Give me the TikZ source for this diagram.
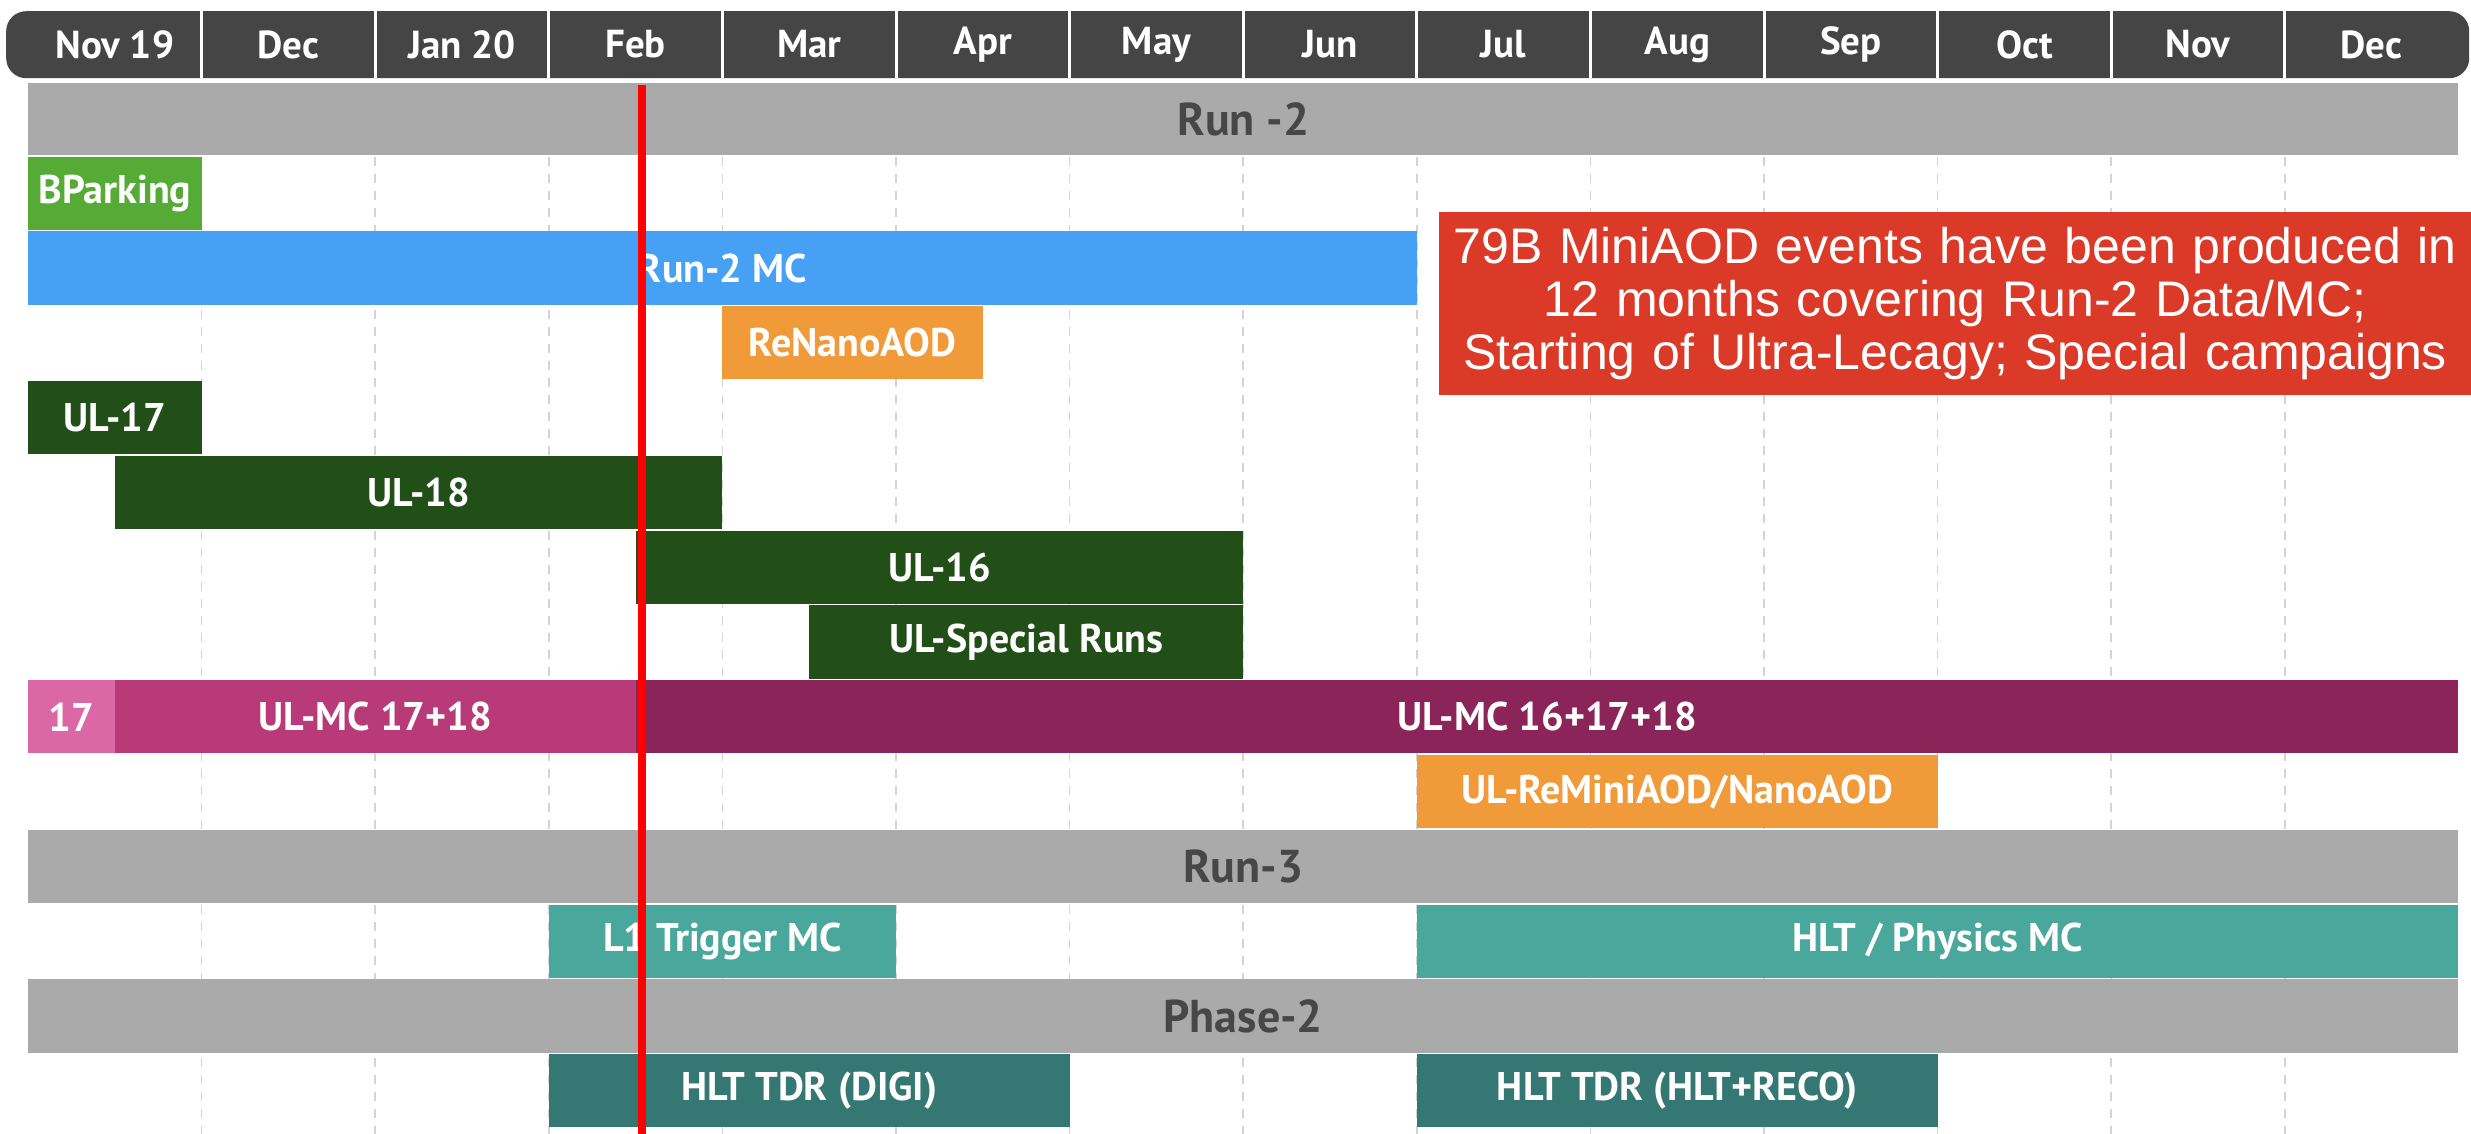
\documentclass[tikz,border=0pt]{standalone}
\usepackage{fontspec}
\setmainfont{PT Sans}
\newfontfamily\helv{Liberation Sans}
\definecolor{hdr}{HTML}{454545}
\definecolor{gbar}{HTML}{AAAAAA}
\definecolor{glabel}{HTML}{474747}
\definecolor{bpark}{HTML}{56AB37}
\definecolor{mcblue}{HTML}{46A0F4}
\definecolor{orng}{HTML}{F19A3A}
\definecolor{ulgreen}{HTML}{224E17}
\definecolor{pinkc}{HTML}{DB68A6}
\definecolor{mcmid}{HTML}{B93A78}
\definecolor{mcdark}{HTML}{8B2559}
\definecolor{tealc}{HTML}{4AA79B}
\definecolor{dteal}{HTML}{357873}
\definecolor{redbox}{HTML}{DA3A27}
\definecolor{gridc}{HTML}{D4D4D4}
\tikzset{
  ganttbox/.style={anchor=north west, minimum height=73.2pt, inner sep=0pt, outer sep=0pt,
    font=\bfseries\fontsize{40}{48}\selectfont, text=white},
  graybox/.style={ganttbox, fill=gbar, text=glabel, font=\bfseries\fontsize{46}{54}\selectfont},
  hdrtext/.style={text=white, font=\bfseries\fontsize{39}{48}\selectfont, inner sep=0pt},
  gridline/.style={gridc, line width=1.6pt, dash pattern=on 9pt off 8pt},
}
\newcommand\gbar[7]{%
  \node[ganttbox, fill=#5, text=#6, minimum width={(#3-#2)*173.6pt}] (#1) at ({28+173.6*#2},{81+74.8*#4+0.8}) {#7};}
\begin{document}
\begin{tikzpicture}[x=1pt,y=-1pt]
\useasboundingbox (0,0) rectangle (2471,1134);
\fill[white] (0,0) rectangle (2471,1134);
% grid lines
\foreach \k in {1,...,13}{
  \coordinate (gt\k) at ({28+173.6*\k},157);
  \coordinate (gb\k) at ({28+173.6*\k},1134);
  \draw[gridline] (gt\k) -- (gb\k);
}
% header
\node[fill=hdr, rounded corners=20pt, minimum width=2463pt, minimum height=67pt, anchor=north west, inner sep=0pt] (hdr) at (6,11) {};
\foreach \k in {1,...,13}{
  \draw[white, line width=3pt] ({28+173.6*\k},11) -- ({28+173.6*\k},78);
}
\foreach \k/\lab in {0/Nov 19,1/Dec,2/Jan 20,3/Feb,4/Mar,5/Apr,6/May,7/Jun,8/Jul,9/Aug,10/Sep,11/Oct,12/Nov,13/Dec}{
  \node[hdrtext] (m\k) at ({28+173.6*(\k+0.5)},44.5) {\lab};
}
% Run-2
\node[graybox, minimum width={14*173.6pt}, minimum height=72pt] (run2) at (28,83) {Run -2};
\gbar{bpark}{0}{1}{1}{bpark}{white}{BParking}
\gbar{mc}{0}{8}{2}{mcblue}{white}{Run-2 MC}
\gbar{renano}{4}{5.5}{3}{orng}{white}{ReNanoAOD}
\gbar{ul17}{0}{1}{4}{ulgreen}{white}{UL-17}
\gbar{ul18}{0.5}{4}{5}{ulgreen}{white}{UL-18}
\gbar{ul16}{3.5}{7}{6}{ulgreen}{white}{UL-16}
\gbar{ulspec}{4.5}{7}{7}{ulgreen}{white}{UL-Special Runs}
\gbar{ulmca}{0}{0.5}{8}{pinkc}{white}{17}
\gbar{ulmcb}{0.5}{3.5}{8}{mcmid}{white}{UL-MC 17+18}
\gbar{ulmcc}{3.5}{14}{8}{mcdark}{white}{UL-MC 16+17+18}
\gbar{remini}{8}{11}{9}{orng}{white}{UL-ReMiniAOD/NanoAOD}
% Run-3
\node[graybox, minimum width={14*173.6pt}] (run3) at ({28},{81+74.8*10+0.8}) {Run-3};
\gbar{l1}{3}{5}{11}{tealc}{white}{L1 Trigger MC}
\gbar{hltphys}{8}{14}{11}{tealc}{white}{HLT / Physics MC}
% Phase-2
\node[graybox, minimum width={14*173.6pt}] (phase2) at ({28},{81+74.8*12+0.8}) {Phase-2};
\gbar{tdrdigi}{3}{6}{13}{dteal}{white}{HLT TDR (DIGI)}
\gbar{tdrreco}{8}{11}{13}{dteal}{white}{HLT TDR (HLT+RECO)}
% note box
\node[anchor=north west, fill=redbox, minimum width=1032pt, minimum height=183pt, inner sep=0pt,
  text width=1032pt, align=center, text=white, font=\helv\fontsize{50}{53}\selectfont] (note) at (1439,212)
  {79B MiniAOD events have been produced in\\ 12 months covering Run-2 Data/MC;\\ Starting of Ultra-Lecagy; Special campaigns};
% today line
\coordinate (rtop) at (642,85);
\coordinate (rbot) at (642,1134);
\draw[red, line width=8pt] (rtop) -- (rbot);
\end{tikzpicture}
\end{document}
